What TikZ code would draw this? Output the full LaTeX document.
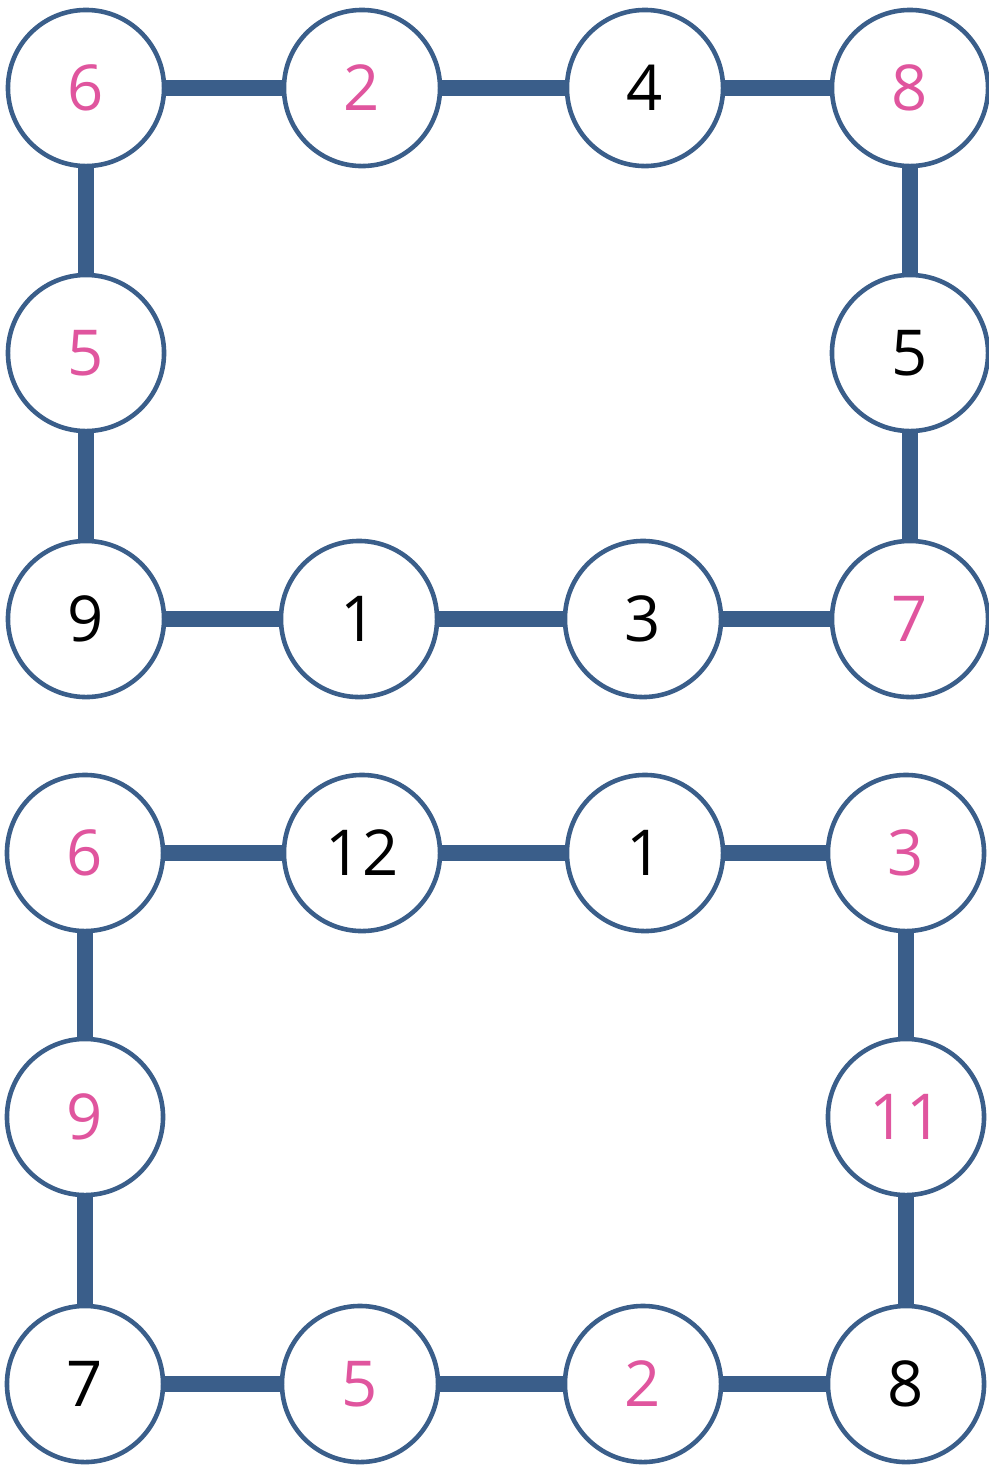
\documentclass[tikz,border=0pt]{standalone}
\usepackage{fontspec}
\setsansfont{Open Sans}
\usetikzlibrary{backgrounds}
\definecolor{cblue}{HTML}{3A5E8A}
\definecolor{cpink}{HTML}{E0559E}
\definecolor{cblack}{HTML}{000000}
\tikzset{
  every picture/.style={font=\sffamily\fontsize{18}{18}\selectfont},
  ball/.style={circle, draw=cblue, fill=white, line width=1.3pt, minimum size=1.56cm, inner sep=0pt, text=#1},
  ball/.default=cblack,
  link/.style={draw=cblue, line width=4.4pt},
}

\begin{document}
\begin{tikzpicture}[x=0.01cm, y=-0.01cm]
  \useasboundingbox (0,0) rectangle (989,1466);
  % upper ring
  \foreach \n/\x/\y/\c/\t in {a1/86/88/cpink/6, a2/362/88/cpink/2, a3/645/88/cblack/4, a4/910/88/cpink/8,
      a5/910/353/cblack/5, a6/910/619/cpink/7, a7/643/619/cblack/3, a8/359/619/cblack/1,
      a9/86/619/cblack/9, a10/86/353/cpink/5}
    \node[ball=\c] (\n) at (\x,\y) {\t};
  % lower ring
  \foreach \n/\x/\y/\c/\t in {b1/85/853/cpink/6, b2/362/853/cblack/12, b3/645/853/cblack/1, b4/906/853/cpink/3,
      b5/906/1117/cpink/11, b6/906/1384/cblack/8, b7/643/1384/cpink/2, b8/360/1384/cpink/5,
      b9/85/1384/cblack/7, b10/85/1117/cpink/9}
    \node[ball=\c] (\n) at (\x,\y) {\t};
  \begin{scope}[on background layer]
    \foreach \p in {a, b} {
      \foreach \i [evaluate=\i as \j using {int(mod(\i,10)+1)}] in {1,...,10}
        \draw[link] (\p\i) -- (\p\j);
    }
  \end{scope}
\end{tikzpicture}
\end{document}
